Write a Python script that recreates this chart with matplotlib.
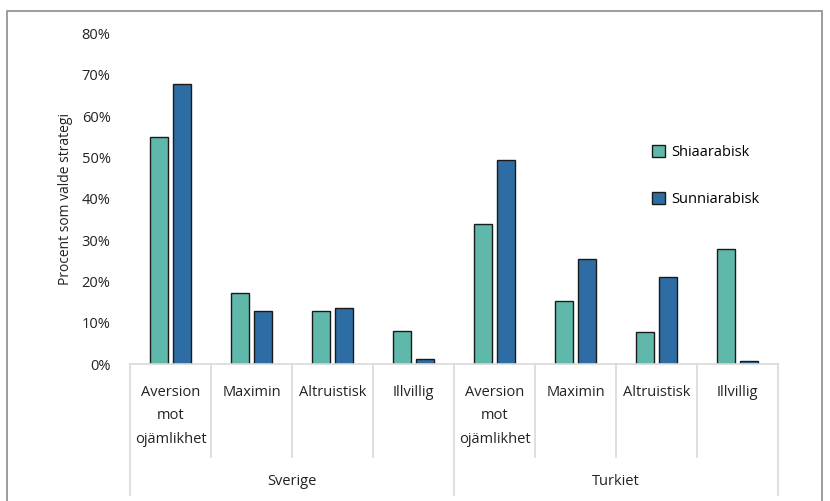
import matplotlib.pyplot as plt
import numpy as np
from matplotlib.patches import Rectangle

plt.rcParams['font.family'] = ['Open Sans', 'DejaVu Sans']

# data
groups = ['Sverige', 'Turkiet']
strategies = ['Aversion\nmot\nojämlikhet', 'Maximin', 'Altruistisk', 'Illvillig']
shia = [0.55, 0.172, 0.128, 0.080, 0.339, 0.153, 0.077, 0.278]
sunni = [0.678, 0.128, 0.136, 0.012, 0.494, 0.254, 0.211, 0.007]
series_names = ['Shiaarabisk', 'Sunniarabisk']
colors = ['#5fb8a9', '#2e6da4']

fig = plt.figure(figsize=(8.3, 5.01), dpi=100)
ax = fig.add_axes([130 / 830, 1 - 364 / 501, 648 / 830, 330.4 / 501])

x = np.arange(len(shia))
w = 0.225
ax.bar(x - 0.145, shia, w, color=colors[0], edgecolor='#1a1a1a', linewidth=1, label=series_names[0])
ax.bar(x + 0.145, sunni, w, color=colors[1], edgecolor='#1a1a1a', linewidth=1, label=series_names[1])

ax.set_xlim(-0.5, len(shia) - 0.5)
ax.set_ylim(0, 0.8)
yt = np.arange(0, 0.81, 0.1)
ax.set_yticks(yt)
ax.set_yticklabels(['%d%%' % round(v * 100) for v in yt], fontsize=10.5, color='#222222')
ax.tick_params(axis='y', length=0, pad=14)
ax.set_xticks([])
for s in ['top', 'right', 'left']:
    ax.spines[s].set_visible(False)
ax.spines['bottom'].set_color('#d9d9d9')
ax.spines['bottom'].set_linewidth(1.2)
ax.set_ylabel('Procent som valde strategi', fontsize=10, color='#222222', labelpad=6)

# category axis: labels and separators
tr = ax.get_xaxis_transform()
labels = strategies * len(groups)
for i, lab in enumerate(labels):
    ax.text(i, -0.064, lab, transform=tr, ha='center', va='top', fontsize=10.5,
            color='#222222', linespacing=1.75)
for i in range(len(labels) + 1):
    b = i - 0.5
    outer = i % len(strategies) == 0
    ax.plot([b, b], [0, -0.396 if outer else -0.281], transform=tr, color='#d9d9d9',
            linewidth=1.2, clip_on=False)
for g, name in enumerate(groups):
    c = g * len(strategies) + (len(strategies) - 1) / 2
    ax.text(c, -0.355, name, transform=tr, ha='center', va='center', fontsize=10.5, color='#222222')

ax.legend(loc='upper left', bbox_to_anchor=(652 / 830, 1 - 145 / 501),
          bbox_transform=fig.transFigure, frameon=False, fontsize=10.5,
          labelspacing=2.2, handlelength=0.9, handleheight=0.9, handletextpad=0.4,
          borderpad=0, borderaxespad=0)

# outer frame
fig.patches.append(Rectangle((7 / 830, -0.01), 815 / 830, 1 - 11 / 501 + 0.01,
                             transform=fig.transFigure, fill=False,
                             edgecolor='#8c8c8c', linewidth=1.2))

fig.savefig('out.png', dpi=100)
